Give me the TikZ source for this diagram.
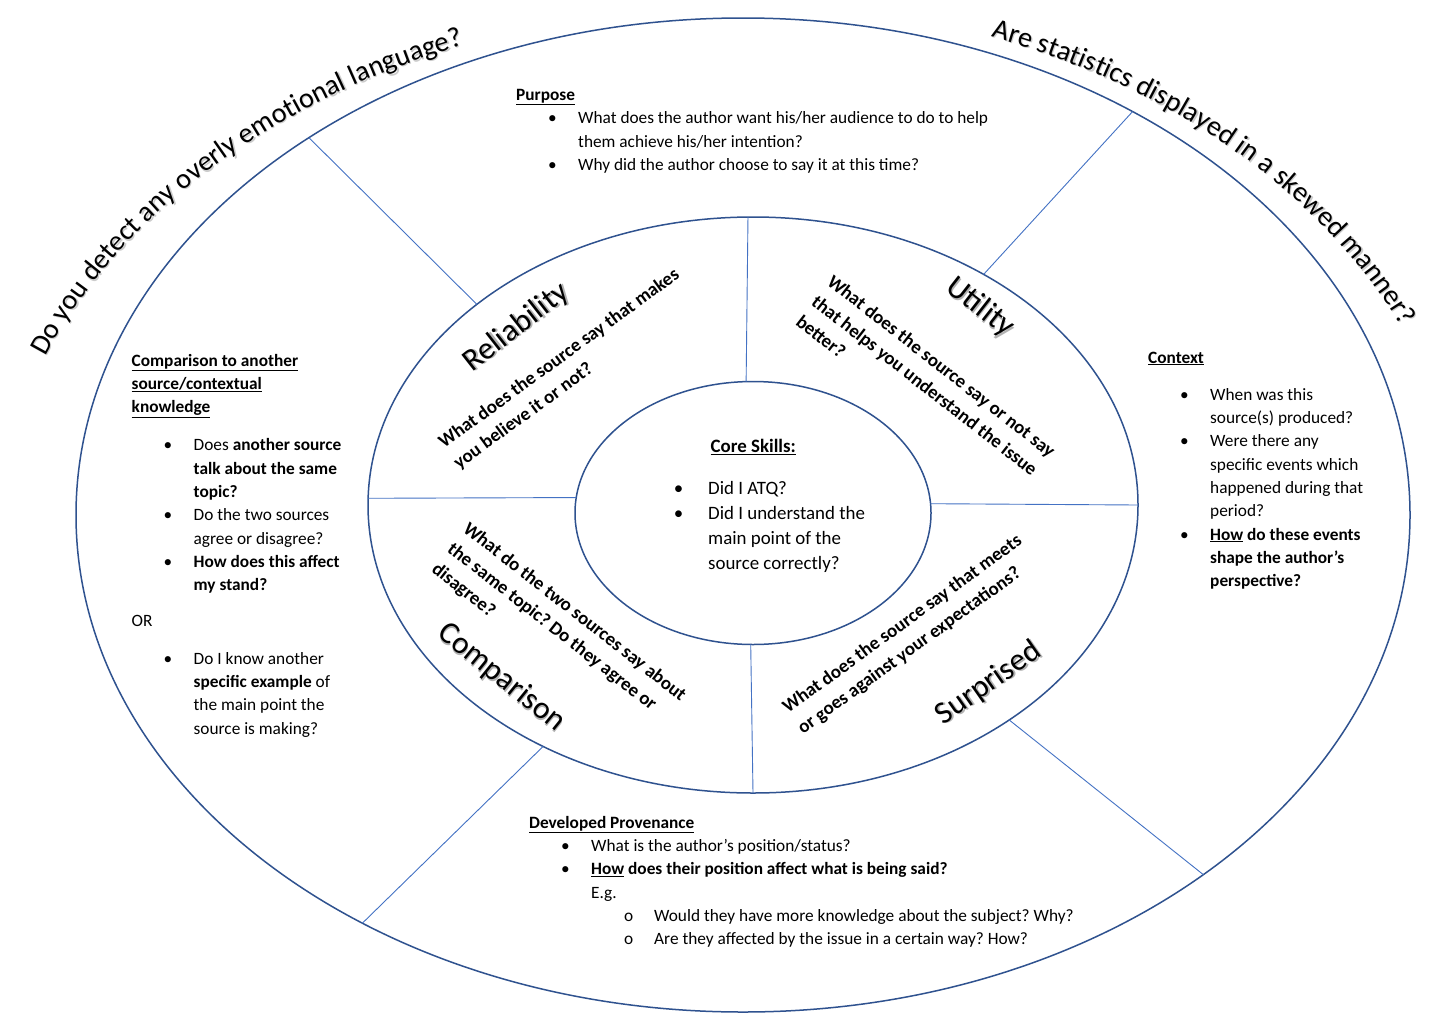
\documentclass[tikz,border=0pt]{standalone}
\usepackage{fontspec}
\setmainfont{Carlito}
\usetikzlibrary{calc,shapes.geometric,decorations.text}
\definecolor{ringblue}{HTML}{2F528F}
\definecolor{spokeblue}{HTML}{4472C4}
\frenchspacing
\newcommand{\bodyfont}{\fontsize{17.3}{23.3}\selectfont}
\newcommand{\corefont}{\fontsize{18.9}{25}\selectfont}
\newcommand{\askfont}{\fontsize{18.9}{25.5}\selectfont\bfseries}
\newcommand{\bigfont}{\fontsize{31.5}{34}\selectfont}
\newcommand{\arcfont}{\fontsize{28.35}{30}\selectfont}
\newcommand{\bitem}[1][32pt]{\hspace*{#1}\makebox[30pt][l]{\textbullet}}
\newcommand{\bcont}[1][62pt]{\hspace*{#1}}
\newcommand{\bsub}{\hspace*{95pt}\makebox[30pt][l]{o}}
\newcommand{\blockhead}[1]{\underline{\textbf{#1}}}
\newcommand{\wordart}[1]{\rlap{\hspace*{1.5pt}\raisebox{-1.5pt}{\textcolor{black!30}{#1}}}#1}

\begin{document}
\begin{tikzpicture}[x=1pt,y=1pt,
    ring/.style={draw=ringblue,line width=1.5pt,ellipse,inner sep=0pt,outer sep=0pt},
    spoke/.style={spokeblue,line width=0.9pt},
    block/.style={font=\bodyfont,anchor=base west,inner sep=0pt},
    asktext/.style={font=\askfont,anchor=base west,inner sep=0pt},
    bigword/.style={font=\bigfont,inner sep=0pt}]
  \useasboundingbox[fill=white] (0,0) rectangle (1442,-1020);

  % the three rings
  \node[ring,minimum width=1334pt,minimum height=994pt] (outerring) at (743,-515) {};
  \node[ring,minimum width=770pt,minimum height=576pt] (midring) at (753,-505) {};
  \node[ring,minimum width=356pt,minimum height=263pt] (corering) at (753,-513) {};

  % spokes
  \draw[spoke] (corering.93) -- (midring.91);
  \draw[spoke] (corering.175) -- (midring.179);
  \draw[spoke] (corering.3) -- (midring.0);
  \draw[spoke] (corering.269) -- (midring.270);
  \draw[spoke] (midring.144) -- (outerring.139);
  \draw[spoke] (midring.45) -- (outerring.46);
  \draw[spoke] (midring.320) -- (outerring.322);
  \draw[spoke] (midring.229) -- (outerring.227);

  % questions round the outside
  \foreach \sx/\tint in {1.2/black!20,0/black}{
    \path[decorate,decoration={text along path,text align=left,
        text={|\arcfont\color{\tint}|Do you detect any overly emotional language?}}]
      ($(743+\sx,-560-\sx)+(158.5:750 and 555)$) arc[start angle=158.5,end angle=95,x radius=750,y radius=555];
    \path[decorate,decoration={text along path,text align=left,
        text={|\arcfont\color{\tint}|Are statistics displayed in a skewed manner?}}]
      ($(743+\sx,-560-\sx)+(70:725 and 557)$) arc[start angle=70,end angle=5,x radius=725,y radius=557];
  }

  % outer ring texts
  \node[block] (purpose) at (516,-100.5) {\begin{tabular}[t]{@{}l@{}}
    \blockhead{Purpose}\\
    \bitem What does the author want his/her audience to do to help\\
    \bcont them achieve his/her intention?\\
    \bitem Why did the author choose to say it at this time?
  \end{tabular}};
  \node[block] (compare) at (131.5,-366) {\begin{tabular}[t]{@{}l@{}}
    \blockhead{Comparison to another}\\
    \blockhead{source/contextual}\\
    \blockhead{knowledge}\\[15pt]
    \bitem Does \textbf{another source}\\
    \bcont\textbf{talk about the same}\\
    \bcont\textbf{topic?}\\
    \bitem Do the two sources\\
    \bcont agree or disagree?\\
    \bitem\textbf{How does this affect}\\
    \bcont\textbf{my stand?}\\[12pt]
    OR\\[15pt]
    \bitem Do I know another\\
    \bcont\textbf{specific example} of\\
    \bcont the main point the\\
    \bcont source is making?
  \end{tabular}};
  \node[block] (context) at (1148,-363) {\begin{tabular}[t]{@{}l@{}}
    \blockhead{Context}\\[14pt]
    \bitem When was this\\
    \bcont source(s) produced?\\
    \bitem Were there any\\
    \bcont specific events which\\
    \bcont happened during that\\
    \bcont period?\\
    \bitem\textbf{\underline{How} do these events}\\
    \bcont\textbf{shape the author’s}\\
    \bcont\textbf{perspective?}
  \end{tabular}};
  \node[block] (provenance) at (529,-828.3) {\begin{tabular}[t]{@{}l@{}}
    \blockhead{Developed Provenance}\\
    \bitem What is the author’s position/status?\\
    \bitem\textbf{\underline{How} does their position affect what is being said?}\\
    \bcont E.g.\\
    \bsub Would they have more knowledge about the subject? Why?\\
    \bsub Are they affected by the issue in a certain way? How?
  \end{tabular}};

  % middle ring texts
  \node[bigword,rotate=38] (reliab) at (517,-328) {\wordart{Reliability}};
  \node[bigword,rotate=-38] (utility) at (980,-308) {\wordart{Utility}};
  \node[bigword,rotate=-39] (comparison) at (501,-678) {\wordart{Comparison}};
  \node[bigword,rotate=35] (surprised) at (989,-684) {\wordart{Surprised}};
  \node[asktext,rotate=36] (reliabq) at (444,-449) {\begin{tabular}[t]{@{}l@{}}
    What does the source say that makes\\you believe it or not?\end{tabular}};
  \node[asktext,rotate=-38] (utilityq) at (826,-284) {\begin{tabular}[t]{@{}l@{}}
    What does the source say or not say\\that helps you understand the issue\\better?\end{tabular}};
  \node[asktext,rotate=-38] (comparisonq) at (462,-531) {\begin{tabular}[t]{@{}l@{}}
    What do the two sources say about\\the same topic? Do they agree or\\disagree?\end{tabular}};
  \node[asktext,rotate=36] (surprisedq) at (788,-714) {\begin{tabular}[t]{@{}l@{}}
    What does the source say that meets\\or goes against your expectations?\end{tabular}};

  % core
  \node[font=\corefont,anchor=base,inner sep=0pt] (coretitle) at (753.3,-452.7) {\blockhead{Core Skills:}};
  \node[font=\corefont,anchor=base west,inner sep=0pt] (corelist) at (673.7,-494) {\begin{tabular}[t]{@{}l@{}}
    \bitem[0pt] Did I ATQ?\\
    \bitem[0pt] Did I understand the\\
    \bcont[30pt] main point of the\\
    \bcont[30pt] source correctly?
  \end{tabular}};
\end{tikzpicture}
\end{document}
